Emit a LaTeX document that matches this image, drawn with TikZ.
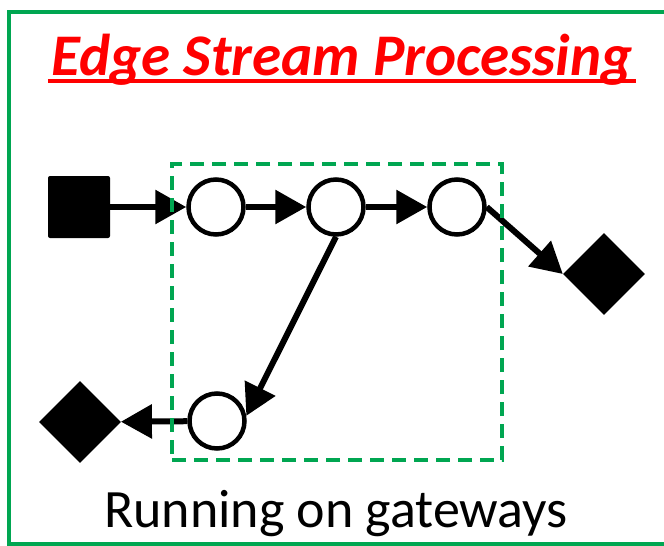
\documentclass[tikz,border=0pt]{standalone}
\usepackage{fontspec}
\setmainfont{Carlito}
\usetikzlibrary{shapes.geometric,arrows.meta}

\definecolor{framegreen}{RGB}{0,166,81}
\definecolor{titlered}{RGB}{255,0,0}

\begin{document}
\begin{tikzpicture}[x=1pt,y=-1pt,
        op/.style={circle,draw,line width=4.5pt,fill=white,minimum size=55pt,inner sep=0pt},
        source/.style={rectangle,fill=black,rounded corners=2pt,minimum size=62pt,inner sep=0pt},
        sink/.style={diamond,fill=black,minimum size=82pt,inner sep=0pt},
        flow/.style={line width=6pt,-{Triangle[length=31pt,width=33pt]}},
        gateway/.style={draw=framegreen,line width=4.5pt,dash pattern=on 14pt off 8pt,minimum width=330pt,minimum height=296pt,inner sep=0pt}]

    \useasboundingbox (0,0) rectangle (664,546);

    % Outer frame (runs off to the right)
    \draw[framegreen,line width=4pt] (680,12) -- (9,12) -- (9,543.5) -- (680,543.5);

    % Title
    \node[anchor=base,text=titlered,font=\fontsize{59}{63}\selectfont\bfseries\itshape] (title) at (342,75) {Edge Stream Processing};
    \draw[titlered,line width=3.5pt] ([yshift=-6pt]title.base west) -- ([yshift=-6pt]title.base east);

    % Source, operators and sinks
    \node[source] (src) at (79,207) {};
    \node[op] (c1) at (216,207) {};
    \node[op] (c2) at (336,207) {};
    \node[op] (c3) at (457,207) {};
    \node[op] (c4) at (217,421) {};
    \node[sink] (rd) at (604,274) {};
    \node[sink] (ld) at (80,422) {};

    % Streams
    \draw[flow] (src) -- (c1);
    \draw[flow] (c1) -- (c2);
    \draw[flow] (c2) -- (c3);
    \draw[flow] (c3.east) -- (rd.west);
    \draw[flow] (c2.south) -- (c4.10);
    \draw[flow] (c4) -- (ld);

    % Gateway box
    \node[gateway] (gw) at (337,312) {};

    \node[anchor=base,font=\fontsize{54}{58}\selectfont] (caption) at (336,527) {Running on gateways};

\end{tikzpicture}
\end{document}
